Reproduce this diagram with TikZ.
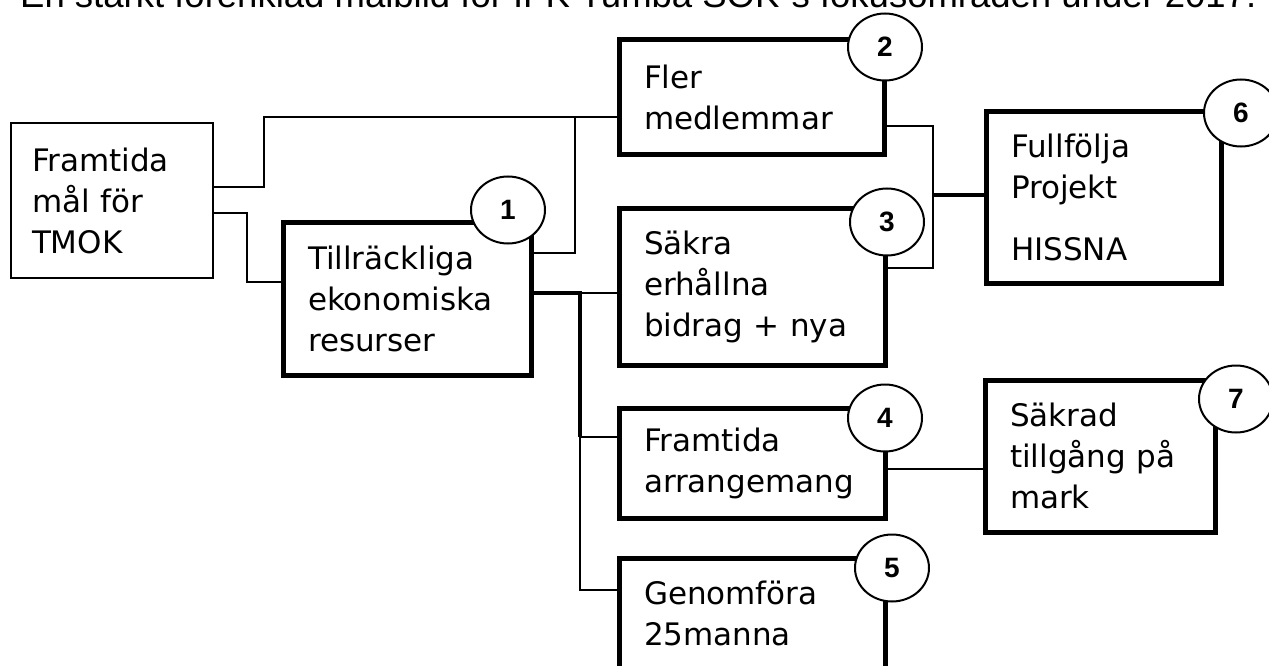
\documentclass[tikz,border=0pt]{standalone}
\usepackage{fontspec}
\setmainfont{DejaVu Sans}
\newfontfamily\headfont{Liberation Sans}
\usepackage{tikz}
\usetikzlibrary{shapes.geometric}

\begin{document}
\begin{tikzpicture}[
    x=1pt, y=-1pt,
    goalbox/.style={rectangle, draw, line width=1.3pt, inner sep=0pt, align=left, font=\fontsize{31}{41}\selectfont},
    box/.style={goalbox, line width=5pt},
    badge/.style={ellipse, draw, fill=white, line width=2pt, minimum width=74pt, minimum height=67pt, inner sep=0pt, font=\headfont\bfseries\fontsize{28}{28}\selectfont},
    wire/.style={line width=1.8pt},
    bus/.style={line width=3.5pt}
]
    \useasboundingbox (0,0) rectangle (1269,666);

    \node[anchor=base west, inner sep=0pt, font=\headfont\fontsize{36.5}{40}\selectfont] (title) at (20,8)
        {En starkt förenklad målbild för IFK Tumba SOK´s fokusområden under 2017.};

    \node[goalbox, minimum width=202pt, minimum height=155pt, text width=160pt] (goal) at (112,200.5) {Framtida\\mål för\\TMOK};
    \node[box, minimum width=248pt, minimum height=153pt, text width=198pt] (eco) at (407,298.5) {Tillräckliga\\ekonomiska\\resurser};
    \node[box, minimum width=265pt, minimum height=115pt, text width=215pt] (members) at (751.5,97.5) {Fler\\medlemmar};
    \node[box, minimum width=266pt, minimum height=157pt, text width=216pt] (grants) at (752,286.5) {Säkra\\erhållna\\bidrag~+~nya};
    \node[box, minimum width=266pt, minimum height=110pt, text width=216pt] (events) at (752,463) {Framtida\\arrangemang};
    \node[box, minimum width=266pt, minimum height=110pt, text width=216pt] (relay) at (752,613) {Genomföra\\25manna};
    \node[box, minimum width=235pt, minimum height=171pt, text width=185pt] (hissna) at (1103.5,197.5) {Fullfölja\\Projekt\\[21pt]HISSNA};
    \node[box, minimum width=230pt, minimum height=152pt, text width=180pt] (land) at (1100,456) {Säkrad\\tillgång på\\mark};

    % bends
    \coordinate (k1) at (264,187);
    \coordinate (k2) at (264,117);
    \coordinate (k3) at (247,213);
    \coordinate (k4) at (247,282);
    \coordinate (k5) at (575,253);
    \coordinate (k6) at (580,293);
    \coordinate (k7) at (580,437);
    \coordinate (k8) at (580,590);
    \coordinate (k9) at (933,126);
    \coordinate (k10) at (933,268);
    \coordinate (k11) at (933,195);
    \coordinate (k12) at (933,469);

    \draw[wire] (goal.east |- k1) -- (k1) -- (k2) -- (members.west |- k2);
    \draw[wire] (goal.east |- k3) -- (k3) -- (k4) -- (eco.west |- k4);
    \draw[wire] (eco.east |- k5) -- (k5) -- (k5 |- k2);
    \draw[bus] (eco.east |- k6) -- (k6) -- (k7);
    \draw[wire] (k6) -- (grants.west |- k6);
    \draw[wire] (k7) -- (events.west |- k7);
    \draw[wire] (k7) -- (k8) -- (relay.west |- k8);
    \draw[wire] (members.east |- k9) -- (k9) -- (k10) -- (grants.east |- k10);
    \draw[bus] (k11) -- (hissna.west |- k11);
    \draw[wire] (events.east |- k12) -- (land.west |- k12);

    \foreach \n/\x/\y in {1/508/210, 2/885/47, 3/887/222, 4/885/418, 5/892/568, 6/1241/113, 7/1236/399}
        \node[badge] (c\n) at (\x,\y) {\n};

\end{tikzpicture}
\end{document}
